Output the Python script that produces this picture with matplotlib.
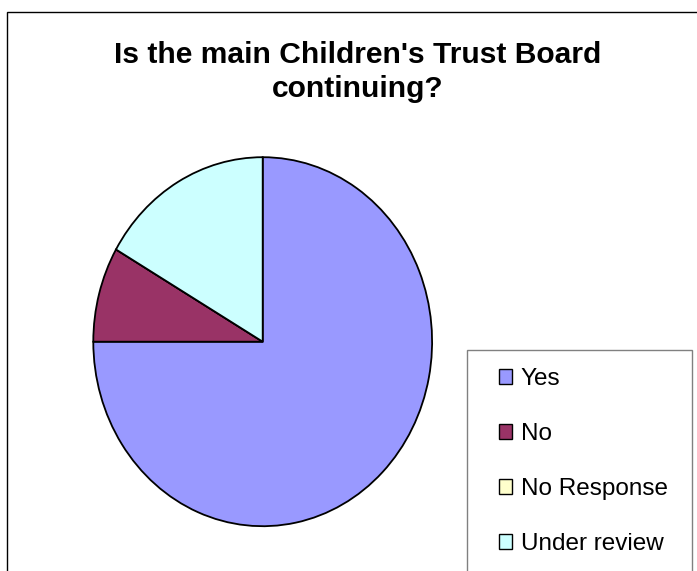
import matplotlib
matplotlib.use("Agg")
import matplotlib.pyplot as plt
from matplotlib.patches import Rectangle, Patch

categories = ["Yes", "No", "No Response", "Under review"]
values = [9, 1, 0, 2]
colors = ["#9999FF", "#993366", "#FFFFCC", "#CCFFFF"]
title_lines = ["Is the main Children's Trust Board", "continuing?"]

W, H = 697, 571
plt.rcParams['font.family'] = ['Liberation Sans', 'DejaVu Sans']
fig = plt.figure(figsize=(W / 100, H / 100), dpi=100)
fig.patch.set_facecolor("white")

# outer chart frame (extends past right and bottom edges)
fig.patches.append(Rectangle((7.3 / W, -0.2), 1.2, 1.2 - 11.7 / H,
                             transform=fig.transFigure, fill=False,
                             edgecolor="black", linewidth=1.0))

# title
fig.text(357.5 / W, 1 - 63 / H, title_lines[0], ha="center", va="baseline",
         fontsize=21.6, fontweight="bold")
fig.text(357.5 / W, 1 - 97.3 / H, title_lines[1], ha="center", va="baseline",
         fontsize=21.6, fontweight="bold")

# pie (slightly elliptical as in reference)
cx, cy, rx, ry = 262.7, 341.7, 169.4, 184.5
ax = fig.add_axes([(cx - rx) / W, 1 - (cy + ry) / H, 2 * rx / W, 2 * ry / H])
ax.pie(values, colors=colors, startangle=90, counterclock=False,
       wedgeprops=dict(edgecolor="black", linewidth=1.3))
ax.set_aspect("auto")
ax.set_xlim(-1, 1)
ax.set_ylim(-1, 1)
ax.axis("off")

# legend box
fig.patches.append(Rectangle((466.7 / W, -0.2), (692 - 466.7) / W, 0.2 + 1 - 350 / H,
                             transform=fig.transFigure, fill=False,
                             edgecolor="#808080", linewidth=1.0))
handles = [Patch(facecolor=c, edgecolor="black", linewidth=1.0) for c in colors]
leg = fig.legend(handles, categories, loc="upper left",
                 bbox_to_anchor=(499 / W, 1 - 368 / H), frameon=False,
                 fontsize=17.5, handlelength=0.55, handleheight=0.55,
                 handletextpad=0.35, labelspacing=1.36, borderpad=0,
                 borderaxespad=0)

fig.savefig("out.png", dpi=100)
